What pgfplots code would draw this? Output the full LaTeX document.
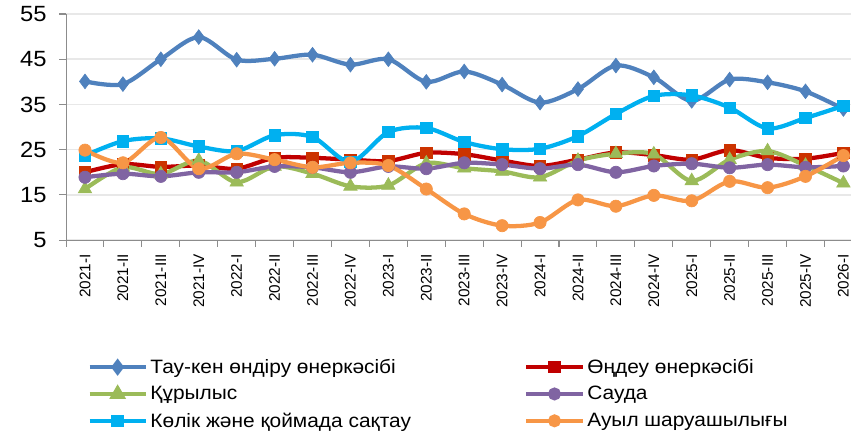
\documentclass[border=0pt]{standalone}
\usepackage{fontspec}
\setmainfont[FakeStretch=1.08]{Liberation Sans}
\newfontfamily\tickfont{Liberation Sans}
\usepackage{pgfplots}
\pgfplotsset{compat=1.18}
\definecolor{cTau}{HTML}{4F81BD}
\definecolor{cOnd}{HTML}{C00000}
\definecolor{cOndM}{HTML}{CC3300}
\definecolor{cKur}{HTML}{9BBB59}
\definecolor{cSau}{HTML}{8064A2}
\definecolor{cKol}{HTML}{00B0F0}
\definecolor{cAuy}{HTML}{F79646}
\definecolor{cGrid}{HTML}{E8E8E8}
\definecolor{cAxis}{HTML}{8C8C8C}
\begin{document}
\begin{tikzpicture}
\path[use as bounding box] (-49.5pt,-144.75pt) rectangle (588.4pt,180pt);
\begin{axis}[
  scale only axis, width=588.4pt, height=169.5pt,
  xmin=-0.5, xmax=20.2, ymin=5, ymax=55,
  axis x line*=bottom, axis y line*=left,
  axis line style={cAxis, line width=0.8pt},
  ytick={5,15,...,55},
  ymajorgrids, major grid style={cGrid, line width=1.2pt},
  xtick={0,...,20},
  xticklabels={2021-I,2021-II,2021-III,2021-IV,2022-I,2022-II,2022-III,2022-IV,2023-I,2023-II,2023-III,2023-IV,2024-I,2024-II,2024-III,2024-IV,2025-I,2025-II,2025-III,2025-IV,2026-I},
  minor xtick={-0.5,0.5,...,19.5},
  tick align=outside,
  major tick length=5pt, minor tick length=5pt,
  x tick style={draw=none},
  minor x tick style={draw=cAxis, line width=0.8pt},
  y tick style={draw=cAxis, line width=0.8pt},
  xticklabel style={rotate=90, anchor=east, font=\tickfont\fontsize{11.5}{13}\selectfont, xshift=-2pt},
  yticklabel style={font=\fontsize{16.5}{18}\selectfont, xshift=-6pt},
  /pgf/number format/assume math mode=true,
  legend columns=2,
  legend cell align=left,
  legend style={at={(axis description cs:0.027,-0.513)}, anchor=north west, draw=none, fill=none, inner sep=0pt,
    font=\fontsize{14.5}{17}\selectfont, row sep=4.2pt,
    /tikz/every even column/.append style={column sep=83pt}},
  legend image code/.code={\draw[mark repeat=2,mark phase=2,#1,mark options={scale=0.7}] plot coordinates {(0pt,0pt) (21pt,0pt) (42pt,0pt)};},
  every axis plot/.append style={line width=3.2pt, smooth, tension=0.5},
]
\addplot[cTau, mark=diamond*, mark size=5.5pt, mark options={solid, fill=cTau, draw=cTau, line width=0.5pt}] coordinates {
(0,40.1) (1,39.5) (2,45) (3,49.9) (4,44.9) (5,45.1) (6,46) (7,43.8) (8,45) (9,40)
(10,42.3) (11,39.4) (12,35.4) (13,38.4) (14,43.6) (15,41) (16,35.8) (17,40.5) (18,39.9) (19,37.9) (20,34)};
\addlegendentry{Тау-кен өндіру өнеркәсібі}
\addplot[cOnd, mark=square*, mark size=4.3pt, mark options={solid, fill=cOndM, draw=cOndM, line width=0.5pt}] coordinates {
(0,20) (1,21.8) (2,21.2) (3,21.5) (4,20.8) (5,23.2) (6,23.2) (7,22.8) (8,22.5) (9,24.3)
(10,24) (11,22.6) (12,21.4) (13,22.8) (14,24.4) (15,23.8) (16,22.8) (17,24.9) (18,23.2) (19,23) (20,24.3)};
\addlegendentry{Өңдеу өнеркәсібі}
\addplot[cKur, mark=triangle*, mark size=5.8pt, mark options={solid, fill=cKur, draw=cKur, line width=0.5pt}] coordinates {
(0,16.3) (1,21.1) (2,19.6) (3,22.6) (4,17.8) (5,21.3) (6,19.7) (7,16.9) (8,17.1) (9,22)
(10,20.9) (11,20.2) (12,18.9) (13,22.6) (14,24.1) (15,24) (16,18.1) (17,22.8) (18,24.7) (19,21.5) (20,17.6)};
\addlegendentry{Құрылыс}
\addplot[cSau, mark=*, mark size=4.6pt, mark options={solid, fill=cSau, draw=cSau, line width=0.5pt}] coordinates {
(0,18.9) (1,19.7) (2,19.1) (3,20) (4,20) (5,21.3) (6,21.1) (7,20) (8,21.3) (9,20.8)
(10,22.1) (11,21.7) (12,20.8) (13,21.7) (14,20) (15,21.4) (16,21.9) (17,21) (18,21.7) (19,21.1) (20,21.4)};
\addlegendentry{Сауда}
\addplot[cKol, mark=square*, mark size=4.3pt, mark options={solid, fill=cKol, draw=cKol, line width=0.5pt}] coordinates {
(0,23.7) (1,26.9) (2,27.5) (3,25.7) (4,24.7) (5,28.2) (6,27.8) (7,22.3) (8,28.9) (9,29.8)
(10,26.7) (11,25.1) (12,25.2) (13,28) (14,32.9) (15,36.9) (16,37) (17,34.3) (18,29.7) (19,32) (20,34.7)};
\addlegendentry{Көлік және қоймада сақтау}
\addplot[cAuy, mark=*, mark size=4.6pt, mark options={solid, fill=cAuy, draw=cAuy, line width=0.5pt}] coordinates {
(0,24.9) (1,22.1) (2,27.7) (3,20.8) (4,24.1) (5,22.8) (6,21.1) (7,22.1) (8,21.5) (9,16.3)
(10,10.8) (11,8.2) (12,8.9) (13,13.9) (14,12.5) (15,14.9) (16,13.7) (17,18) (18,16.6) (19,19.1) (20,23.7)};
\addlegendentry{Ауыл шаруашылығы}
\end{axis}
\end{tikzpicture}
\end{document}
